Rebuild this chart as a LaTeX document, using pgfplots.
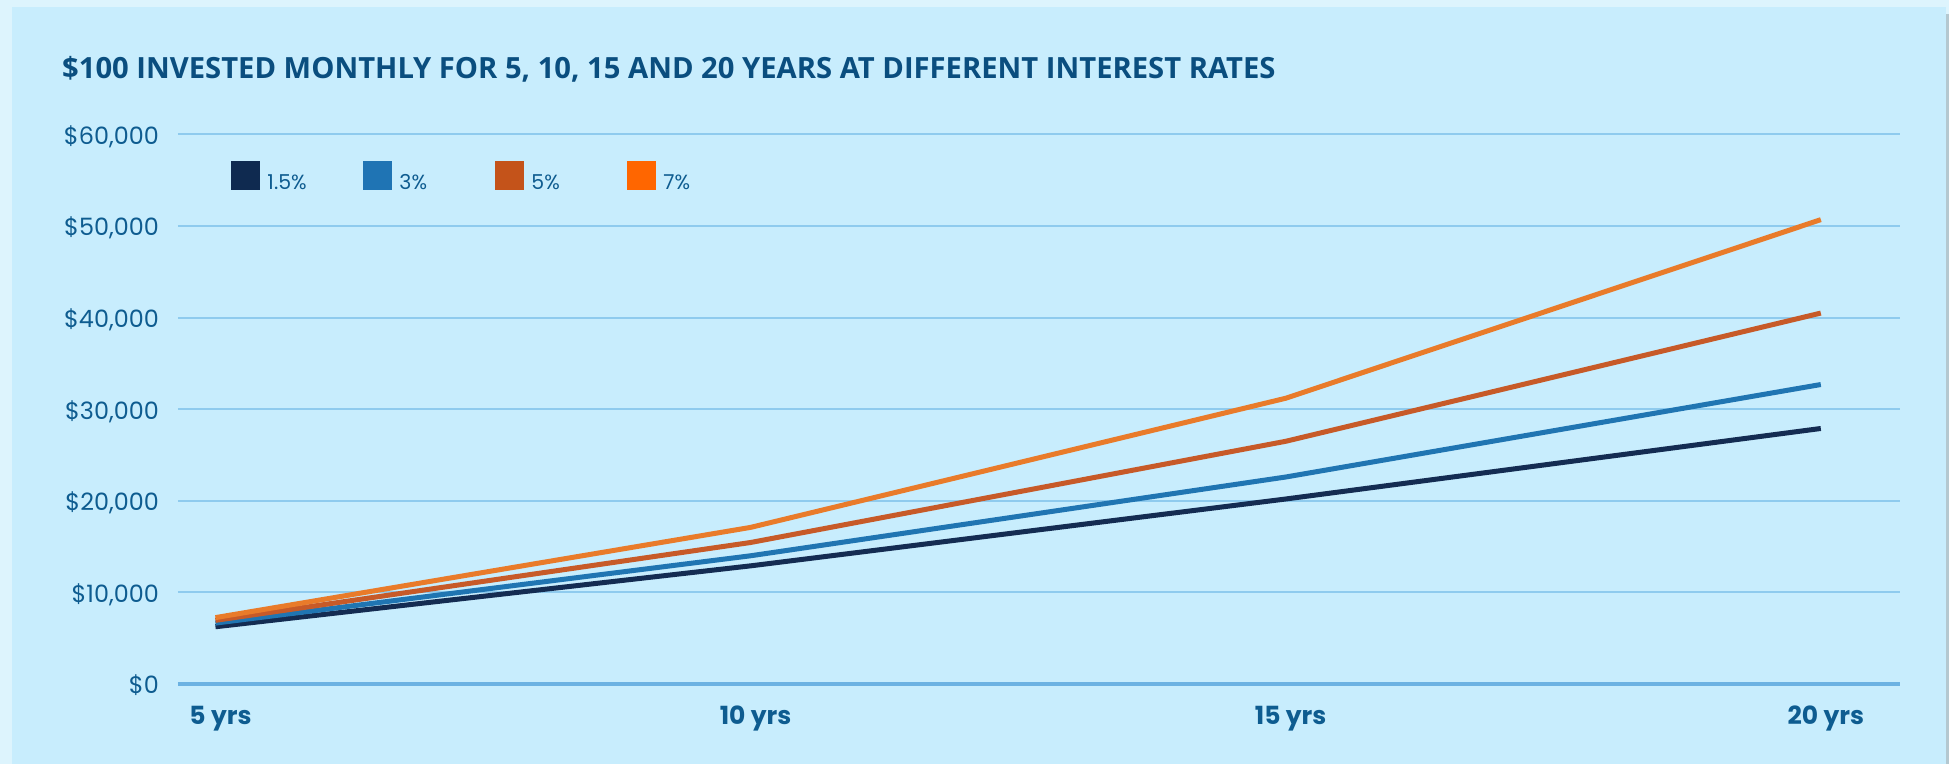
\documentclass[border=0pt]{standalone}
\usepackage{pgfplots}
\pgfplotsset{compat=1.18}
\usepackage{fontspec}
\setmainfont{Poppins}
\newfontfamily\titlefont{Open Sans}
\definecolor{bg}{HTML}{C8EDFD}
\definecolor{edge}{HTML}{DDF4FD}
\definecolor{shadow}{HTML}{B4C8D0}
\definecolor{gridc}{HTML}{8FCBEE}
\definecolor{axisc}{HTML}{6CB2E2}
\definecolor{txt}{HTML}{0E5C90}
\definecolor{ttl}{HTML}{0A4E7F}
\definecolor{cA}{HTML}{142C52}
\definecolor{cB}{HTML}{2075B2}
\definecolor{cC}{HTML}{C75A28}
\definecolor{cD}{HTML}{E97B2A}
\definecolor{lA}{HTML}{0F2A50}
\definecolor{lB}{HTML}{1F74B4}
\definecolor{lC}{HTML}{C4531A}
\definecolor{lD}{HTML}{FF6600}
\begin{document}
\begin{tikzpicture}[x=1pt,y=1pt]
\useasboundingbox (0,0) rectangle (1949,764);
\fill[edge] (0,0) rectangle (1949,764);
\fill[bg] (12,0) rectangle (1946,757);
\fill[shadow] (1946,0) rectangle (1949,750);
\node[anchor=base west, inner sep=0pt, font=\titlefont\bfseries\fontsize{29.2}{33}\selectfont, text=ttl] at (62,685.7) {\$100 INVESTED MONTHLY FOR 5, 10, 15 AND 20 YEARS AT DIFFERENT INTEREST RATES};
\begin{axis}[
  at={(178pt,80pt)}, anchor=south west,
  width=1722pt, height=549.5pt, scale only axis,
  xmin=-0.07, xmax=3.148, ymin=0, ymax=60000,
  axis line style={draw=none}, major tick length=0pt, tick style={draw=none},
  ymajorgrids, grid style={gridc, line width=2pt},
  ytick={0,10000,20000,30000,40000,50000,60000},
  yticklabels={\$0,{\$10,000},{\$20,000},{\$30,000},{\$40,000},{\$50,000},{\$60,000}},
  scaled y ticks=false,
  xtick={0,1,2,3},
  xticklabels={5 yrs,10 yrs,15 yrs,20 yrs},
  yticklabel style={anchor=base east, inner sep=0pt, xshift=-19pt, yshift=-9.8pt, text=txt, font=\fontsize{23.9}{27}\selectfont},
  xticklabel style={anchor=base, inner sep=0pt, xshift=5pt, yshift=-40.3pt, text=txt, font=\bfseries\fontsize{25}{29}\selectfont},
  clip=false,
  legend columns=4,
  legend cell align=left,
  legend style={at={(0.0308,0.9518)}, anchor=north west, draw=none, fill=none, inner sep=0pt,
    nodes={inner sep=0pt, text=txt, font=\fontsize{20.5}{23}\selectfont},
    /tikz/every even column/.append style={column sep=0pt},
    /tikz/every odd column/.append style={column sep=0pt}},
]
\draw[axisc, line width=4pt] (rel axis cs:0,0) -- (rel axis cs:1,0);
\addplot[cA, line width=5pt, legend image code/.code={\fill[lA] (0pt,-4.7pt) rectangle (23.7pt,18.7pt); \path (31.2pt,0pt);}]
  coordinates {(0,6250) (1,12900) (2,20200) (3,27900)};
\addlegendentry{\makebox[95.8pt][l]{1.5\%}}
\addplot[cB, line width=5pt, legend image code/.code={\fill[lB] (0pt,-4.7pt) rectangle (23.7pt,18.7pt); \path (31.2pt,0pt);}]
  coordinates {(0,6650) (1,14000) (2,22600) (3,32700)};
\addlegendentry{\makebox[95.8pt][l]{3\%}}
\addplot[cC, line width=5pt, legend image code/.code={\fill[lC] (0pt,-4.7pt) rectangle (23.7pt,18.7pt); \path (31.2pt,0pt);}]
  coordinates {(0,6950) (1,15450) (2,26500) (3,40500)};
\addlegendentry{\makebox[95.8pt][l]{5\%}}
\addplot[cD, line width=5pt, legend image code/.code={\fill[lD] (0pt,-4.7pt) rectangle (23.7pt,18.7pt); \path (31.2pt,0pt);}]
  coordinates {(0,7250) (1,17100) (2,31200) (3,50700)};
\addlegendentry{\makebox[95.8pt][l]{7\%}}
\end{axis}
\end{tikzpicture}
\end{document}
